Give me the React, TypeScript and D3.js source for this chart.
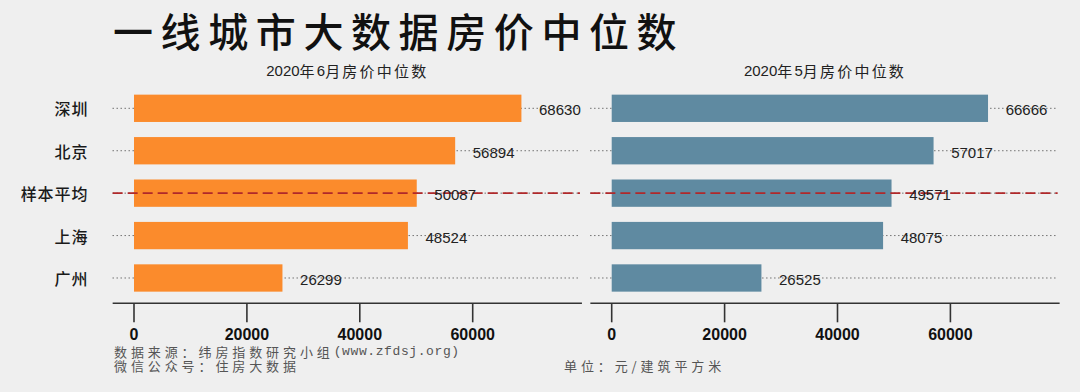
import React from 'react';
import * as d3 from 'd3';

const categories = ['深圳', '北京', '样本平均', '上海', '广州'];
const juneValues = [68630, 56894, 50087, 48524, 26299];
const mayValues = [66666, 57017, 49571, 48075, 26525];
const panelTitles = ['2020年6月房价中位数', '2020年5月房价中位数'];
const tickValues = [0, 20000, 40000, 60000];
const averageCategory = '样本平均';
const chartTitle = '一线城市大数据房价中位数';
const sourceLine1 = '数据来源：纬房指数研究小组';
const sourceUrl = '(www.zfdsj.org)';
const sourceLine2 = '微信公众号：住房大数据';
const unitText = '单位：元/建筑平方米';

const W = 1080;
const H = 392;
const BG = '#efefef';
const COLORS = ['#fb8b2c', '#5f8aa1'];
const CJK = '"Noto Sans CJK SC", "Noto Sans", sans-serif';
const ARIAL = '"Liberation Sans", Arial, sans-serif';

const y = d3
  .scaleBand<string>()
  .domain(categories)
  .range([87.1, 299.2])
  .paddingInner(0.356)
  .paddingOuter(0.178);

const AXIS_MIN = -3780;
const AXIS_MAX = 79350;
const DOT_MAX = 79000;

function runs(s: string) {
  const out: { t: string; ascii: boolean }[] = [];
  for (const ch of s) {
    const a = /[\x20-\x7e]/.test(ch);
    if (out.length && out[out.length - 1].ascii === a) out[out.length - 1].t += ch;
    else out.push({ t: ch, ascii: a });
  }
  return out;
}

function Panel({ values, title, x0, color }: { values: number[]; title: string; x0: number; color: string }) {
  const x = d3.scaleLinear().domain([0, 80000]).range([x0, x0 + 451.6]);
  const axisY = 303.3;
  const center = (x(AXIS_MIN) + x(AXIS_MAX)) / 2;
  return (
    <g>
      <text x={center} y={70} textAnchor="middle" dominantBaseline="central" fontSize={15} fill="#222">
        {runs(title).map((r, i) =>
          r.ascii ? (
            <tspan key={i} fontFamily={ARIAL}>{r.t}</tspan>
          ) : (
            <tspan key={i} fontFamily={CJK} letterSpacing={2.2}>{r.t}</tspan>
          )
        )}
      </text>
      {categories.map((c) => {
        const cy = (y(c) as number) + y.bandwidth() / 2;
        return (
          <line
            key={'dot' + c}
            x1={x(AXIS_MIN)}
            x2={x(DOT_MAX)}
            y1={cy}
            y2={cy}
            stroke="#333"
            strokeWidth={1}
            strokeDasharray="1,3"
          />
        );
      })}
      {categories.map((c, i) => (
        <rect
          key={'bar' + c}
          x={x(0)}
          y={y(c) as number}
          width={x(values[i]) - x(0)}
          height={y.bandwidth()}
          fill={color}
        />
      ))}
      {(() => {
        const cy = (y(averageCategory) as number) + y.bandwidth() / 2;
        return (
          <line
            x1={x(AXIS_MIN)}
            x2={x(DOT_MAX)}
            y1={cy}
            y2={cy}
            stroke="#b0282a"
            strokeWidth={1.6}
            strokeDasharray="10,5"
          />
        );
      })()}
      {categories.map((c, i) => {
        const cy = (y(c) as number) + y.bandwidth() / 2;
        return (
          <text
            key={'val' + c}
            x={x(values[i]) + 17.6}
            y={cy + 1.5}
            dominantBaseline="central"
            fontFamily={ARIAL}
            fontSize={15}
            fill="#222"
          >
            {values[i]}
          </text>
        );
      })}
      <line x1={x(AXIS_MIN)} x2={x(AXIS_MAX)} y1={axisY} y2={axisY} stroke="#333" strokeWidth={1.6} />
      {tickValues.map((t) => (
        <g key={'t' + t}>
          <line x1={x(t)} x2={x(t)} y1={axisY} y2={axisY + 19} stroke="#333" strokeWidth={1.6} />
          <text
            x={x(t)}
            y={334}
            textAnchor="middle"
            dominantBaseline="central"
            fontFamily={ARIAL}
            fontWeight="bold"
            fontSize={16}
            fill="#111"
          >
            {t}
          </text>
        </g>
      ))}
    </g>
  );
}

export default function App() {
  return (
    <svg
      width={W}
      height={H}
      viewBox={`0 0 ${W} ${H}`}
      style={{ position: 'absolute', left: 0, top: 0, background: BG }}
    >
      <rect x={0} y={0} width={W} height={H} fill={BG} />
      <text
        x={113}
        y={30}
        dominantBaseline="central"
        fontFamily={CJK}
        fontWeight={500}
        fontSize={40}
        letterSpacing={7.6}
        fill="#111"
      >
        {chartTitle}
      </text>
      {categories.map((c) => {
        const cy = (y(c) as number) + y.bandwidth() / 2;
        return (
          <text
            key={'lab' + c}
            x={88.3}
            y={cy}
            textAnchor="end"
            dominantBaseline="central"
            fontFamily={CJK}
            fontWeight={500}
            fontSize={16}
            letterSpacing={0.9}
            fill="#1a1a1a"
          >
            {c}
          </text>
        );
      })}
      <Panel values={juneValues} title={panelTitles[0]} x0={134} color={COLORS[0]} />
      <Panel values={mayValues} title={panelTitles[1]} x0={611.7} color={COLORS[1]} />
      <text x={114} y={350.5} dominantBaseline="central" fontSize={13} fill="#555">
        <tspan fontFamily={CJK} letterSpacing={3.9}>{sourceLine1}</tspan>
        <tspan fontFamily='"Liberation Mono", "DejaVu Sans Mono", monospace' letterSpacing={0.6}>{sourceUrl}</tspan>
      </text>
      <text
        x={114}
        y={365}
        dominantBaseline="central"
        fontSize={13}
        fontFamily={CJK}
        letterSpacing={3.9}
        fill="#555"
      >
        {sourceLine2}
      </text>
      <text
        x={564}
        y={365}
        dominantBaseline="central"
        fontSize={13}
        fontFamily={CJK}
        letterSpacing={3.9}
        fill="#555"
      >
        {unitText}
      </text>
    </svg>
  );
}
